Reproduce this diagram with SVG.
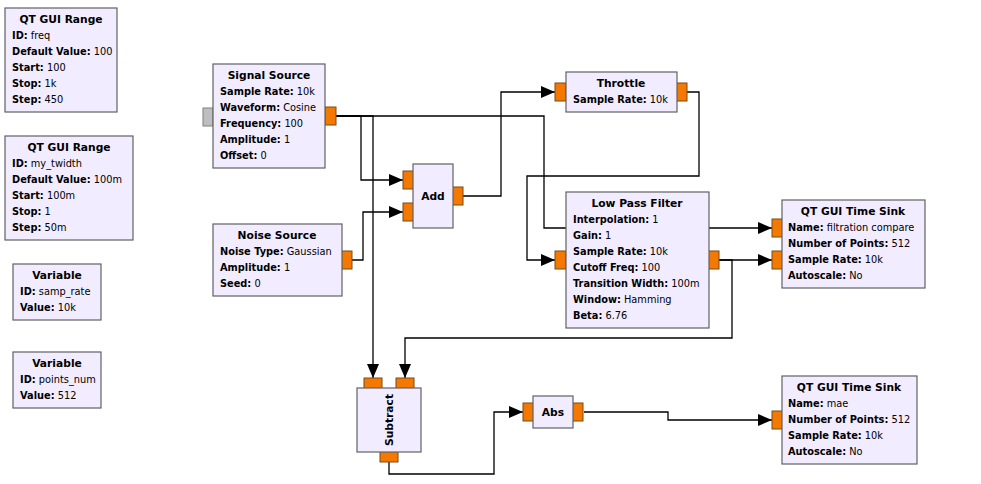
<svg xmlns="http://www.w3.org/2000/svg" width="981" height="484" viewBox="0 0 981 484">
<style>
.nb{fill:#F1ECFF;stroke:#616161;stroke-width:1.2}
.p{fill:#F37900;stroke:#7a4a1a;stroke-width:1}
.pg{fill:#BEBEBE;stroke:#808080;stroke-width:1}
text{font-family:"DejaVu Sans","Liberation Sans",sans-serif;font-size:9.8px;fill:#000}
.t{font-weight:bold;text-anchor:middle;font-size:10.7px}
.k{font-weight:bold}
.c{fill:none;stroke:#000;stroke-width:1.3;marker-end:url(#ar)}
</style>
<defs>
<marker id="ar" markerUnits="userSpaceOnUse" markerWidth="15" markerHeight="13" refX="14" refY="6" orient="auto">
<path d="M0,0 L14,6 L0,12 z" fill="#000"/>
</marker>
</defs>
<rect width="981" height="484" fill="#fff"/>
<g id="connectors">
<path class="c" d="M336,116 H544 V228 H772"/>
<path class="c" d="M336,116 H361 V180 H403"/>
<path class="c" d="M336,116 H373 V378"/>
<path class="c" d="M352,260 H363 V212 H403"/>
<path class="c" d="M463,196 H501 V92 H555"/>
<path class="c" d="M687,92 H699 V176 H527 V260 H555"/>
<path class="c" d="M719,260 H772"/>
<path class="c" d="M719,260 H732 V338 H405 V378"/>
<path class="c" d="M389,462 V474 H494 V412 H523"/>
<path class="c" d="M584,412 H668 V420 H772"/>
</g>
<g id="range_freq">
<rect class="nb" x="5" y="8" width="112" height="104"/>
<text class="t" x="61" y="23">QT GUI Range</text>
<text x="12" y="39"><tspan class="k">ID:</tspan> freq</text>
<text x="12" y="55"><tspan class="k">Default Value:</tspan> 100</text>
<text x="12" y="71"><tspan class="k">Start:</tspan> 100</text>
<text x="12" y="87"><tspan class="k">Stop:</tspan> 1k</text>
<text x="12" y="103"><tspan class="k">Step:</tspan> 450</text>
</g>
<g id="range_twidth">
<rect class="nb" x="5" y="136" width="128" height="104"/>
<text class="t" x="69" y="151">QT GUI Range</text>
<text x="12" y="167"><tspan class="k">ID:</tspan> my_twidth</text>
<text x="12" y="183"><tspan class="k">Default Value:</tspan> 100m</text>
<text x="12" y="199"><tspan class="k">Start:</tspan> 100m</text>
<text x="12" y="215"><tspan class="k">Stop:</tspan> 1</text>
<text x="12" y="231"><tspan class="k">Step:</tspan> 50m</text>
</g>
<g id="var_samp_rate">
<rect class="nb" x="13" y="264" width="88" height="56"/>
<text class="t" x="57" y="279">Variable</text>
<text x="20" y="295"><tspan class="k">ID:</tspan> samp_rate</text>
<text x="20" y="311"><tspan class="k">Value:</tspan> 10k</text>
</g>
<g id="var_points_num">
<rect class="nb" x="13" y="352" width="88" height="56"/>
<text class="t" x="57" y="367">Variable</text>
<text x="20" y="383"><tspan class="k">ID:</tspan> points_num</text>
<text x="20" y="399"><tspan class="k">Value:</tspan> 512</text>
</g>
<g id="signal_source">
<rect class="pg" x="203" y="108" width="10" height="18"/>
<rect class="p" x="325" y="107" width="11" height="18"/>
<rect class="nb" x="213" y="64" width="112" height="104"/>
<text class="t" x="269" y="79">Signal Source</text>
<text x="220" y="95"><tspan class="k">Sample Rate:</tspan> 10k</text>
<text x="220" y="111"><tspan class="k">Waveform:</tspan> Cosine</text>
<text x="220" y="127"><tspan class="k">Frequency:</tspan> 100</text>
<text x="220" y="143"><tspan class="k">Amplitude:</tspan> 1</text>
<text x="220" y="159"><tspan class="k">Offset:</tspan> 0</text>
</g>
<g id="noise_source">
<rect class="p" x="341" y="251" width="11" height="18"/>
<rect class="nb" x="213" y="224" width="129" height="72"/>
<text class="t" x="277" y="239">Noise Source</text>
<text x="220" y="255"><tspan class="k">Noise Type:</tspan> Gaussian</text>
<text x="220" y="271"><tspan class="k">Amplitude:</tspan> 1</text>
<text x="220" y="287"><tspan class="k">Seed:</tspan> 0</text>
</g>
<g id="add">
<rect class="p" x="403" y="171" width="11" height="18"/>
<rect class="p" x="403" y="203" width="11" height="18"/>
<rect class="p" x="452" y="187" width="11" height="18"/>
<rect class="nb" x="413" y="164" width="40" height="64"/>
<text class="t" x="433" y="200">Add</text>
</g>
<g id="throttle">
<rect class="p" x="555" y="83" width="11" height="18"/>
<rect class="p" x="676" y="83" width="11" height="18"/>
<rect class="nb" x="566" y="72" width="111" height="40"/>
<text class="t" x="621" y="87">Throttle</text>
<text x="573" y="103"><tspan class="k">Sample Rate:</tspan> 10k</text>
</g>
<g id="low_pass_filter">
<rect class="p" x="555" y="251" width="11" height="18"/>
<rect class="p" x="708" y="251" width="11" height="18"/>
<rect class="nb" x="566" y="192" width="143" height="136"/>
<text class="t" x="637" y="207">Low Pass Filter</text>
<text x="573" y="223"><tspan class="k">Interpolation:</tspan> 1</text>
<text x="573" y="239"><tspan class="k">Gain:</tspan> 1</text>
<text x="573" y="255"><tspan class="k">Sample Rate:</tspan> 10k</text>
<text x="573" y="271"><tspan class="k">Cutoff Freq:</tspan> 100</text>
<text x="573" y="287"><tspan class="k">Transition Width:</tspan> 100m</text>
<text x="573" y="303"><tspan class="k">Window:</tspan> Hamming</text>
<text x="573" y="319"><tspan class="k">Beta:</tspan> 6.76</text>
</g>
<g id="time_sink_filtration">
<rect class="p" x="772" y="219" width="11" height="18"/>
<rect class="p" x="772" y="251" width="11" height="18"/>
<rect class="nb" x="782" y="200" width="143" height="88"/>
<text class="t" x="853" y="215">QT GUI Time Sink</text>
<text x="788" y="231"><tspan class="k">Name:</tspan> filtration compare</text>
<text x="788" y="247"><tspan class="k">Number of Points:</tspan> 512</text>
<text x="788" y="263"><tspan class="k">Sample Rate:</tspan> 10k</text>
<text x="788" y="279"><tspan class="k">Autoscale:</tspan> No</text>
</g>
<g id="time_sink_mae">
<rect class="p" x="772" y="411" width="11" height="18"/>
<rect class="nb" x="782" y="376" width="135" height="88"/>
<text class="t" x="849" y="391">QT GUI Time Sink</text>
<text x="788" y="407"><tspan class="k">Name:</tspan> mae</text>
<text x="788" y="423"><tspan class="k">Number of Points:</tspan> 512</text>
<text x="788" y="439"><tspan class="k">Sample Rate:</tspan> 10k</text>
<text x="788" y="455"><tspan class="k">Autoscale:</tspan> No</text>
</g>
<g id="subtract">
<rect class="p" x="364" y="378" width="18" height="11"/>
<rect class="p" x="396" y="378" width="18" height="11"/>
<rect class="p" x="380" y="451" width="18" height="11"/>
<rect class="nb" x="357" y="388" width="64" height="64"/>
<text class="t" transform="translate(393,420) rotate(-90)">Subtract</text>
</g>
<g id="abs">
<rect class="p" x="523" y="403" width="11" height="18"/>
<rect class="p" x="572" y="403" width="11" height="18"/>
<rect class="nb" x="533" y="396" width="40" height="32"/>
<text class="t" x="553" y="416">Abs</text>
</g>
</svg>
